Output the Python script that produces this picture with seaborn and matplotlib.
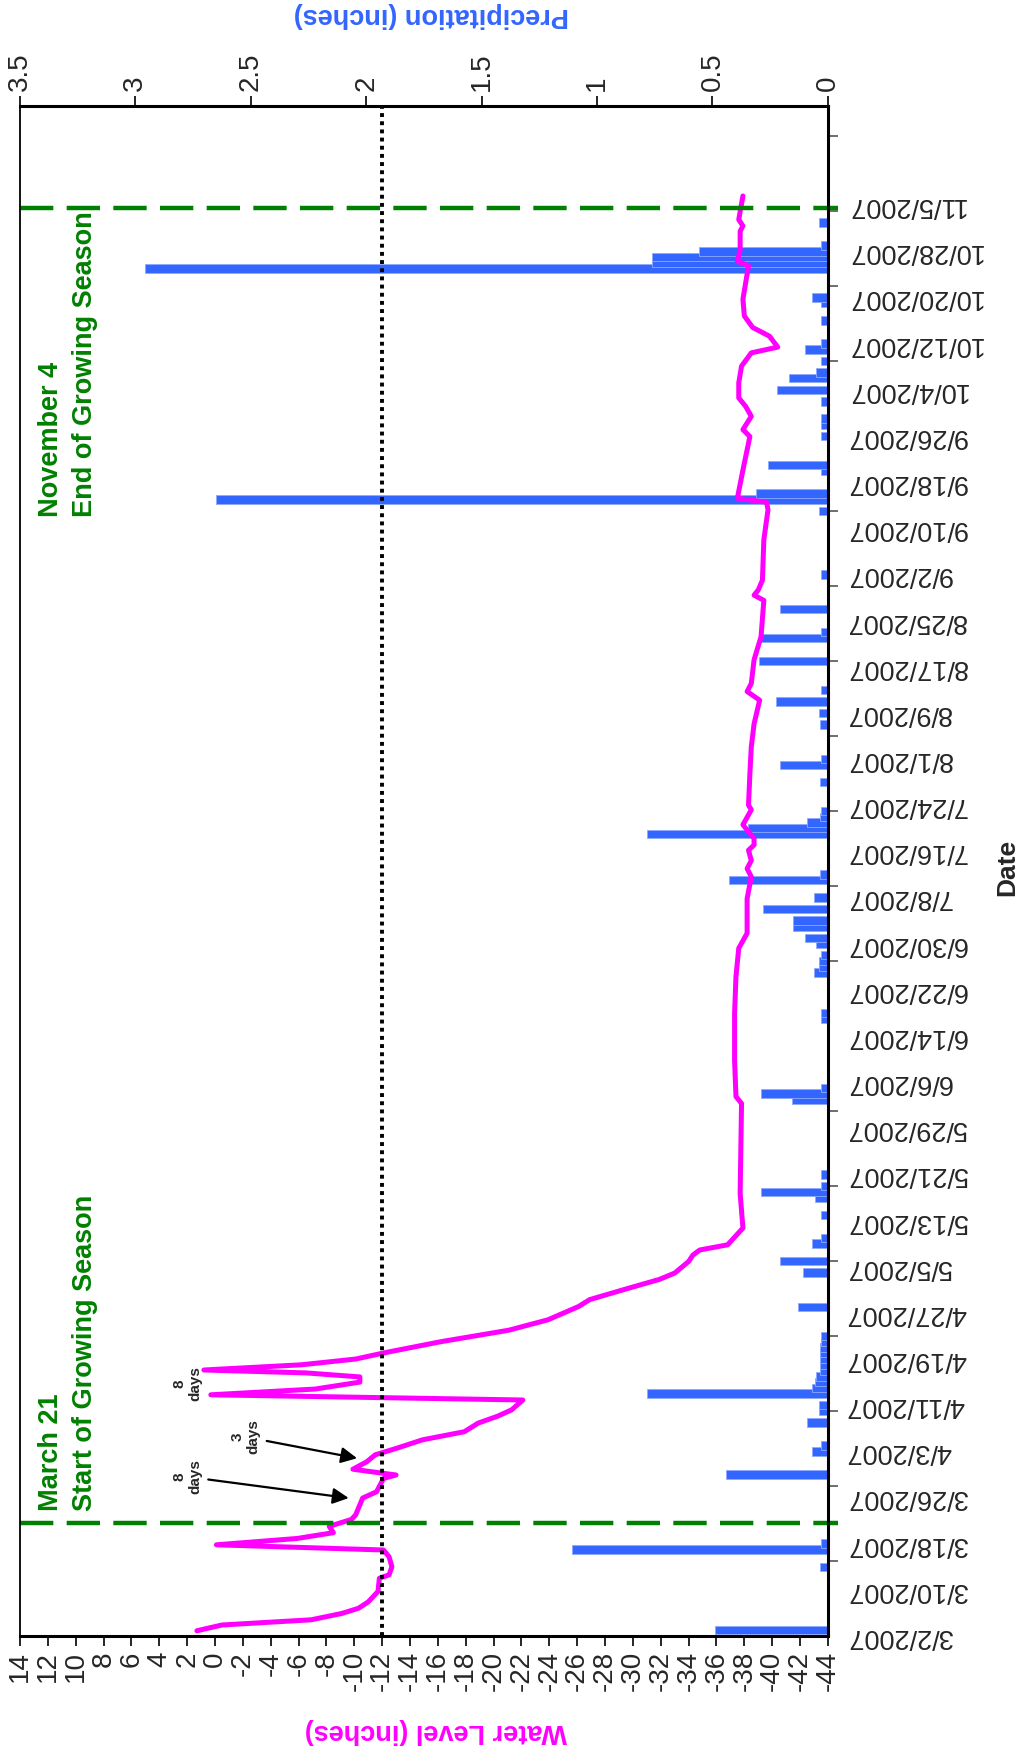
import pandas as pd
import matplotlib
matplotlib.use('Agg')
import matplotlib.pyplot as plt
import matplotlib.dates as mdates
import seaborn as sns

sns.set_theme(style='white')
plt.rcParams['font.family'] = ['Liberation Sans', 'DejaVu Sans']

start = pd.Timestamp('2007-03-02')

# water level readings: days after 3/2/2007 and level in inches
level_days = [0.9, 1.9, 2.8, 3.9, 4.8, 5.9, 7.7, 10.0, 10.6, 12.0, 13.7, 14.9,
              15.8, 16.9, 17.9, 19.0, 20.2, 21.0, 23.9, 25.0, 27.3, 27.9, 28.9,
              30.2, 31.4, 32.5, 34.0, 35.4, 36.9, 38.1, 39.2, 40.9, 41.8, 42.8,
              44.0, 44.9, 45.6, 46.1, 47.0, 48.0, 49.1, 51.0, 53.0, 54.8, 57.1,
              58.3, 60.0, 61.8, 62.9, 64.9, 66.0, 66.9, 67.8, 70.7, 76.7, 92.3,
              93.5, 99.8, 107.9, 114.3, 119.2, 121.8, 127.8, 131.6, 133.0, 134.4,
              136.2, 137.1, 138.2, 139.7, 140.6, 143.2, 144.0, 149.5, 154.1,
              158.1, 162.2, 163.7, 165.1, 169.2, 173.2, 179.5, 180.4, 181.3,
              183.0, 190.0, 195.2, 196.5, 197.2, 202.1, 207.9, 209.1, 211.4,
              213.1, 214.6, 217.2, 220.1, 222.4, 223.4, 225.3, 226.8, 228.8,
              231.7, 237.5, 238.3, 240.3, 243.5, 244.4, 245.5, 249.6]
level_in = [1.3, -0.5, -6.9, -9.1, -10.3, -11.0, -11.7, -11.8, -12.5, -12.7, -12.5, -12.1,
            -0.1, -5.9, -8.5, -8.2, -9.8, -10.1, -10.6, -11.6, -12.1, -13.0, -9.9,
            -10.9, -11.5, -13.0, -14.9, -17.9, -18.9, -20.3, -21.3, -22.1, 0.3, -7.2,
            -10.4, -10.4, -6.5, 0.8, -6.2, -10.1, -12.2, -16.2, -21.1, -23.9, -26.1,
            -26.9, -29.3, -31.9, -33.0, -34.0, -34.3, -34.8, -36.8, -37.9, -37.7, -37.8,
            -37.4, -37.3, -37.3, -37.4, -37.6, -38.2, -38.2, -38.5, -38.2, -38.5,
            -38.3, -38.7, -38.7, -38.2, -37.9, -38.5, -38.3, -38.4, -38.5,
            -38.7, -39.1, -38.2, -38.5, -38.7, -39.2, -39.4, -38.7, -39.0,
            -39.3, -39.4, -39.7, -39.6, -37.5, -37.9, -38.4, -37.9, -38.5,
            -38.1, -37.6, -37.6, -37.8, -38.5, -40.4, -39.8, -38.6, -38.0,
            -37.9, -38.3, -37.5, -37.7, -37.7, -37.9, -37.6, -37.9]

# daily precipitation: days after 3/2/2007 and inches
rain_days = [1, 12, 15, 16, 28, 32, 33, 37, 39, 40, 42, 43, 44, 45, 46, 47, 48, 49,
             50, 51, 52, 57, 63, 65, 68, 69, 73, 76, 77, 78, 80, 93, 94, 95, 107,
             108, 115, 116, 117, 118, 120, 121, 123, 124, 126, 128, 131, 132, 139,
             140, 141, 142, 143, 148, 151, 152, 158, 160, 162, 164, 169, 173, 174,
             178, 184, 195, 197, 198, 202, 203, 208, 210, 211, 214, 216, 218, 219,
             221, 223, 224, 228, 231, 232, 237, 238, 239, 240, 241, 245]
rain_in = [0.49, 0.035, 1.11, 0.03, 0.44, 0.068, 0.03, 0.09, 0.04, 0.04, 0.785, 0.068,
           0.056, 0.05, 0.035, 0.035, 0.035, 0.035, 0.035, 0.03, 0.03, 0.128, 0.107,
           0.208, 0.068, 0.032, 0.03, 0.056, 0.29, 0.03, 0.03, 0.157, 0.29, 0.03, 0.03,
           0.03, 0.06, 0.04, 0.04, 0.03, 0.05, 0.10, 0.15, 0.15, 0.28, 0.06, 0.427,
           0.035, 0.785, 0.345, 0.09, 0.035, 0.03, 0.035, 0.208, 0.03, 0.035, 0.04,
           0.227, 0.03, 0.30, 0.29, 0.03, 0.208, 0.03, 0.04, 2.65, 0.31, 0.03, 0.26,
           0.03, 0.03, 0.03, 0.03, 0.22, 0.17, 0.05, 0.03, 0.10, 0.03, 0.03, 0.03,
           0.07, 2.96, 0.76, 0.76, 0.56, 0.03, 0.04]

level_ticks = list(range(14, -46, -2))
rain_ticks = [0, 0.5, 1, 1.5, 2, 2.5, 3, 3.5]
rain_tick_labels = ['0', '0.5', '1', '1.5', '2', '2.5', '3', '3.5']
target_level = -12
season_start = pd.Timestamp('2007-03-21 12:00')
season_end = pd.Timestamp('2007-11-04 12:00')

level_dates = start + pd.to_timedelta(level_days, unit='D')
rain_dates = start + pd.to_timedelta(rain_days, unit='D')


def dnum(days):
    return mdates.date2num(start + pd.Timedelta(days=days))


fig = plt.figure(figsize=(10.24, 17.54), dpi=100)
ax = fig.add_axes([0.0195, 0.0673, 0.789, 0.8723])

# precipitation bars (bottom layer, top axis)
ax.barh(rain_dates, rain_in, height=1.45, color='#3366ff',
        edgecolor='#8fa9ff', linewidth=0.6)
ax.set_xlim(3.5, 0)
ax.set_ylim(start, start + pd.Timedelta(days=265.2))

ax2 = ax.twiny()
sns.lineplot(x=level_in, y=level_dates, sort=False, estimator=None,
             color='#ff00ff', linewidth=3.6, ax=ax2)
ax2.set_xlim(14, -44)
ax2.axvline(target_level, color='black', linestyle=(0, (1, 1.1)), lw=2.8)
for d in [season_start, season_end]:
    ax2.axhline(d, xmin=0, xmax=1.012, color='#008000', lw=3.2,
                linestyle=(0, (7.5, 3)), clip_on=False)

# axes setup
ax.xaxis.tick_top()
ax.xaxis.set_label_position('top')
ax.set_xticks(rain_ticks, labels=rain_tick_labels)
ax.tick_params(axis='x', which='major', top=True, bottom=False, direction='out',
               length=7, width=1.2, color='black', pad=4, labelsize=20,
               labelrotation=90)

label_dates = pd.date_range('2007-03-02', '2007-11-05', freq='8D')
ax.set_yticks(label_dates, labels=[f'{t.month}/{t.day}/{t.year}' for t in label_dates])
ax.set_yticks(pd.date_range('2007-03-02', periods=21, freq='13D'), minor=True)
ax.yaxis.tick_right()
ax.tick_params(axis='y', which='major', right=True, left=False, length=0,
               pad=13, labelsize=19.5)
ax.tick_params(axis='y', which='minor', right=True, left=False, direction='out',
               length=7, width=1.2, color='#555555')
for lab in ax.get_yticklabels():
    lab.set_rotation(180)
    lab.set_ha('left')
    lab.set_va('center')

ax2.xaxis.tick_bottom()
ax2.xaxis.set_label_position('bottom')
ax2.set_xticks(level_ticks, labels=[str(v) for v in level_ticks])
ax2.tick_params(axis='x', which='major', bottom=True, top=False, direction='out',
                length=7, width=1.2, color='black', pad=4, labelsize=20,
                labelrotation=90)

for s in ax.spines.values():
    s.set_visible(False)
for name, s in ax2.spines.items():
    s.set_visible(True)
    s.set_color('black')
    s.set_linewidth(1.3 if name == 'left' else 2.2)

ax2.set_xlabel('Water Level (inches)', color='#ff00ff', fontsize=19.5,
               fontweight='bold', rotation=180)
ax2.xaxis.set_label_coords(0.515, -0.062)
ax2.xaxis.label.set_va('center')
ax2.set_ylabel('')

ax.set_xlabel('Precipitation (inches)', color='#3366ff', fontsize=19.5,
              fontweight='bold', rotation=180)
ax.xaxis.set_label_coords(0.509, 1.0595)
ax.xaxis.label.set_va('center')

ax.set_ylabel('Date', fontsize=19, fontweight='bold', rotation=90)
ax.yaxis.set_label_position('right')
ax.yaxis.set_label_coords(1.2215, 0.5026)
ax.yaxis.label.set_va('center')
ax.yaxis.label.set_ha('center')

# annotations
ax2.text(12.7, dnum(21.7), 'March 21\nStart of Growing Season', rotation=90,
         ha='left', va='bottom', multialignment='left', color='#008000',
         fontsize=19.5, fontweight='bold', linespacing=1.4)
ax2.text(12.7, dnum(193.9), 'November 4\nEnd of Growing Season', rotation=90,
         ha='left', va='bottom', multialignment='left', color='#008000',
         fontsize=19.5, fontweight='bold', linespacing=1.4)
ax2.text(2.0, dnum(43.8), '8\ndays', rotation=90, ha='center', va='center',
         multialignment='center', fontsize=11, fontweight='bold')
arrow = dict(arrowstyle='-|>', color='black', lw=1.6, mutation_scale=24,
             shrinkA=2, shrinkB=0)
ax2.annotate('8\ndays', xy=(-9.6, dnum(23.9)), xytext=(2.0, dnum(27.6)),
             rotation=90, ha='center', va='center', multialignment='center',
             fontsize=11, fontweight='bold', arrowprops=arrow)
ax2.annotate('3\ndays', xy=(-10.2, dnum(30.8)), xytext=(-2.2, dnum(34.5)),
             rotation=90, ha='center', va='center', multialignment='center',
             fontsize=11, fontweight='bold', arrowprops=arrow)

fig.savefig('out.png', dpi=100)
